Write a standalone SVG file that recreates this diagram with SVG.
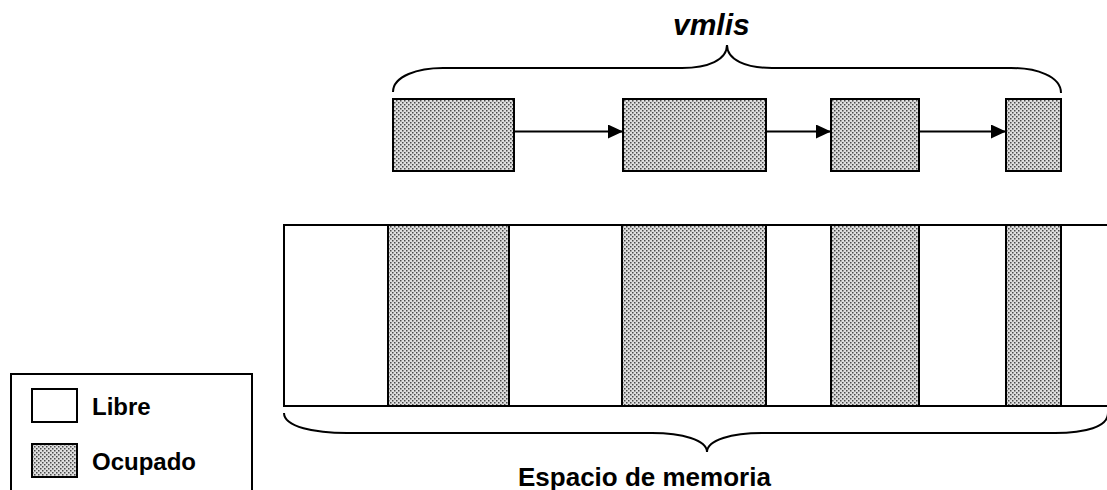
<svg xmlns="http://www.w3.org/2000/svg" width="1107" height="490" viewBox="0 0 1107 490">
  <defs>
    <!-- fine dot screen used for occupied blocks -->
    <pattern id="dots" width="4" height="4" patternUnits="userSpaceOnUse">
      <rect width="4" height="4" fill="#dedede"/>
      <rect x="0" y="0" width="1.5" height="1.5" fill="#4a4a4a"/>
      <rect x="2" y="2" width="1.5" height="1.5" fill="#4a4a4a"/>
    </pattern>
    <marker id="head" markerWidth="16" markerHeight="14" refX="15" refY="7" orient="auto" markerUnits="userSpaceOnUse">
      <path d="M0,0 L15,7 L0,14 Z" fill="#000"/>
    </marker>
  </defs>
  <style>
    .occ { fill: url(#dots); stroke: #000; stroke-width: 2; }
    .free { fill: #fff; stroke: #000; stroke-width: 2; }
    .line { fill: none; stroke: #000; stroke-width: 2; }
    .arrow { fill: none; stroke: #000; stroke-width: 2; marker-end: url(#head); }
    .lbl { font-family: "Liberation Sans", Arial, sans-serif; font-weight: bold; fill: #000; }
  </style>

  <rect width="1107" height="490" fill="#fff"/>

  <!-- vmlis list -->
  <g id="brace-vmlis">
    <path class="line" d="M393,92 C393,76 418,68 443,68 L682,68 C708,68 727,60 727,45 C727,60 746,68 772,68 L1011,68 C1036,68 1061,76 1061,93"/>
    <text class="lbl" x="673" y="35" font-size="30" font-style="italic">vmlis</text>
  </g>
  <g id="node-1"><rect class="occ" x="393" y="99" width="121" height="72"/></g>
  <g id="node-2"><rect class="occ" x="623" y="99" width="143" height="72"/></g>
  <g id="node-3"><rect class="occ" x="831" y="99" width="88" height="72"/></g>
  <g id="node-4"><rect class="occ" x="1006" y="99" width="55" height="72"/></g>

  <g id="connectors">
    <line class="arrow" x1="514" y1="131.5" x2="623" y2="131.5"/>
    <line class="arrow" x1="766" y1="131.5" x2="831" y2="131.5"/>
    <line class="arrow" x1="919" y1="131.5" x2="1006" y2="131.5"/>
  </g>

  <!-- memory space -->
  <g id="memory">
    <path class="line" d="M1107,225 L284,225 L284,406 L1107,406"/>
    <rect class="occ" x="388" y="225" width="121" height="181"/>
    <rect class="occ" x="622" y="225" width="144" height="181"/>
    <rect class="occ" x="831" y="225" width="88" height="181"/>
    <rect class="occ" x="1006" y="225" width="55" height="181"/>
  </g>
  <g id="brace-memoria">
    <path class="line" d="M284,413 C284,427 315,433 347,433 L652,433 C682,433 707,440 707,452 C707,440 732,433 762,433 L1055,433 C1085,433 1108,427 1108,413"/>
    <text class="lbl" x="518" y="486" font-size="26">Espacio de memoria</text>
  </g>

  <!-- legend -->
  <g id="legend">
    <rect class="free" x="11" y="374" width="241" height="130"/>
    <rect class="free" x="32" y="389" width="45" height="33"/>
    <text class="lbl" x="92" y="415" font-size="24">Libre</text>
    <rect class="occ" x="32" y="444" width="45" height="33"/>
    <text class="lbl" x="92" y="470" font-size="24">Ocupado</text>
  </g>
</svg>
